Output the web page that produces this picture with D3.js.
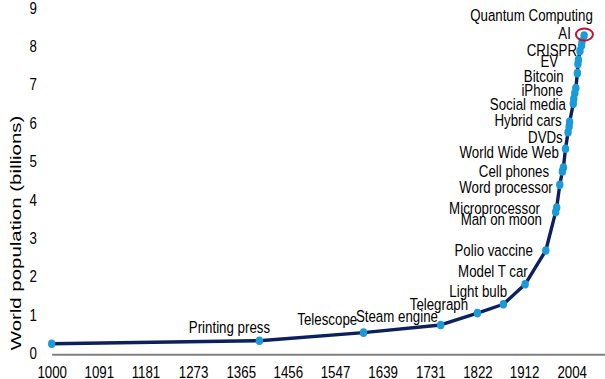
<!DOCTYPE html>
<html>
<head>
<meta charset="utf-8">
<script src="https://cdn.jsdelivr.net/npm/d3@7"></script>
<style>
  html, body { margin: 0; padding: 0; background: #fff; }
  svg { display: block; font-family: "Liberation Sans", Arial, sans-serif; }
</style>
</head>
<body>
<div id="chart"></div>
<script>
// ===== Data =====
const years = [1000, 1401, 1602, 1751, 1822, 1872, 1914, 1954, 1973, 1975, 1981, 1986, 1988,
  1992, 1997, 1999, 2000, 2007, 2008, 2010, 2012, 2015, 2016, 2017, 2020, 2023, 2024, 2028];
const population = [0.24, 0.32, 0.53, 0.73, 1.04, 1.27, 1.79, 2.67, 3.67, 3.79, 4.38, 4.73, 4.83,
  5.32, 5.75, 5.90, 6.02, 6.49, 6.62, 6.77, 6.90, 7.29, 7.53, 7.64, 7.87, 8.01, 8.12, 8.27];

const labelNames = ["Printing press", "Telescope", "Steam engine", "Telegraph", "Light bulb",
  "Model T car", "Polio vaccine", "Man on moon", "Microprocessor", "Word processor",
  "Cell phones", "World Wide Web", "DVDs", "Hybrid cars", "Social media", "iPhone",
  "Bitcoin", "EV", "CRISPR", "AI", "Quantum Computing"];
// year of the point each label belongs to
const labelYears = [1401, 1602, 1751, 1822, 1872, 1914, 1954, 1973, 1975, 1981,
  1986, 1992, 1997, 2000, 2007, 2010, 2015, 2017, 2020, 2028, 2028];

const xTickLabels = ["1000", "1091", "1181", "1273", "1365", "1456", "1547", "1639", "1731", "1822", "1912", "2004"];
const yTicks = [0, 1, 2, 3, 4, 5, 6, 7, 8, 9];
const circledYear = 2028;

// ===== Layout =====
const W = 605, H = 379;
const STRETCH = 1.22; // text in the picture is a bit taller than wide
// label offsets (px) from its point: text end x, text centre y
const labelOffsets = [
  [10.7, -13.7], [-6.3, -13.7], [-2.7, -9], [-9.3, -8.3], [3.7, -13.3],
  [2.7, -13.3], [-13, 0], [-13.7, 6.7], [-16.7, 1.3], [-7, 2],
  [-13.3, 0.3], [-6.7, 4], [-5.3, 4.7], [-8, -1.3], [-7.3, 0.7], [-12, -2.3],
  [-13.7, 2.7], [-20.3, 2], [-3, -1], [-13.3, -2.7], [8.7, -20.7]
];

const x = d3.scaleLinear().domain([1000, 2068.3]).range([51.7, 605]);
const y = d3.scaleLinear().domain([0, 9]).range([353, 7.5]);

const svg = d3.select("#chart").append("svg")
  .attr("width", W).attr("height", H);

// ===== Axes =====
const xAxis = svg.append("g")
  .attr("transform", "translate(0,354.3)")
  .call(d3.axisBottom(x).tickValues(xTickLabels.map(Number)).tickFormat((d, i) => xTickLabels[i]).tickSize(0));
xAxis.select(".domain").attr("stroke", "#7f7f7f").attr("stroke-width", 2);
xAxis.selectAll("text")
  .attr("y", 0).attr("dy", "0.35em")
  .attr("transform", `translate(0,18.3) scale(1,${STRETCH})`)
  .style("font-size", "13.3px").attr("fill", "#000");

const yAxis = svg.append("g")
  .attr("transform", "translate(42,0)")
  .call(d3.axisLeft(y).tickValues(yTicks).tickSize(0).tickPadding(5));
yAxis.select(".domain").remove();
yAxis.selectAll("text")
  .attr("dy", "0.35em")
  .attr("transform", `scale(1,${STRETCH})`)
  .style("font-size", "13.3px").attr("fill", "#000");

svg.append("text")
  .attr("transform", "translate(16,233) rotate(-90) scale(1.38,1)")
  .attr("text-anchor", "middle")
  .attr("dy", "0.35em")
  .style("font-size", "14.8px")
  .attr("fill", "#000")
  .text("World population (billions)");

// ===== Line + markers =====
const pts = years.map((yr, i) => ({ yr, v: population[i] }));

svg.append("path")
  .datum(pts)
  .attr("fill", "none")
  .attr("stroke", "#0c1f5f")
  .attr("stroke-width", 3.4)
  .attr("stroke-linejoin", "round")
  .attr("d", d3.line().x(d => x(d.yr)).y(d => y(d.v)));

svg.selectAll(".pt")
  .data(pts)
  .enter()
  .append("ellipse")
  .attr("class", "pt")
  .attr("cx", d => x(d.yr))
  .attr("cy", d => y(d.v))
  .attr("rx", 3.7)
  .attr("ry", 4.3)
  .attr("fill", "#1a9ad8");

// circled point
const cp = pts.find(d => d.yr === circledYear);
svg.append("ellipse")
  .attr("cx", x(cp.yr) + 0.3)
  .attr("cy", y(cp.v) - 1)
  .attr("rx", 8.5)
  .attr("ry", 6)
  .attr("fill", "none")
  .attr("stroke", "#c8102e")
  .attr("stroke-width", 2);

// ===== Labels =====
labelNames.forEach((name, i) => {
  const p = pts.find(d => d.yr === labelYears[i]);
  const [dx, dy] = labelOffsets[i];
  svg.append("g")
    .attr("transform", `translate(${x(p.yr) + dx},${y(p.v) + dy}) scale(1,${STRETCH})`)
    .append("text")
    .attr("text-anchor", "end")
    .attr("dy", "0.35em")
    .style("font-size", "13.3px")
    .attr("fill", "#000")
    .text(name);
});
</script>
</body>
</html>
